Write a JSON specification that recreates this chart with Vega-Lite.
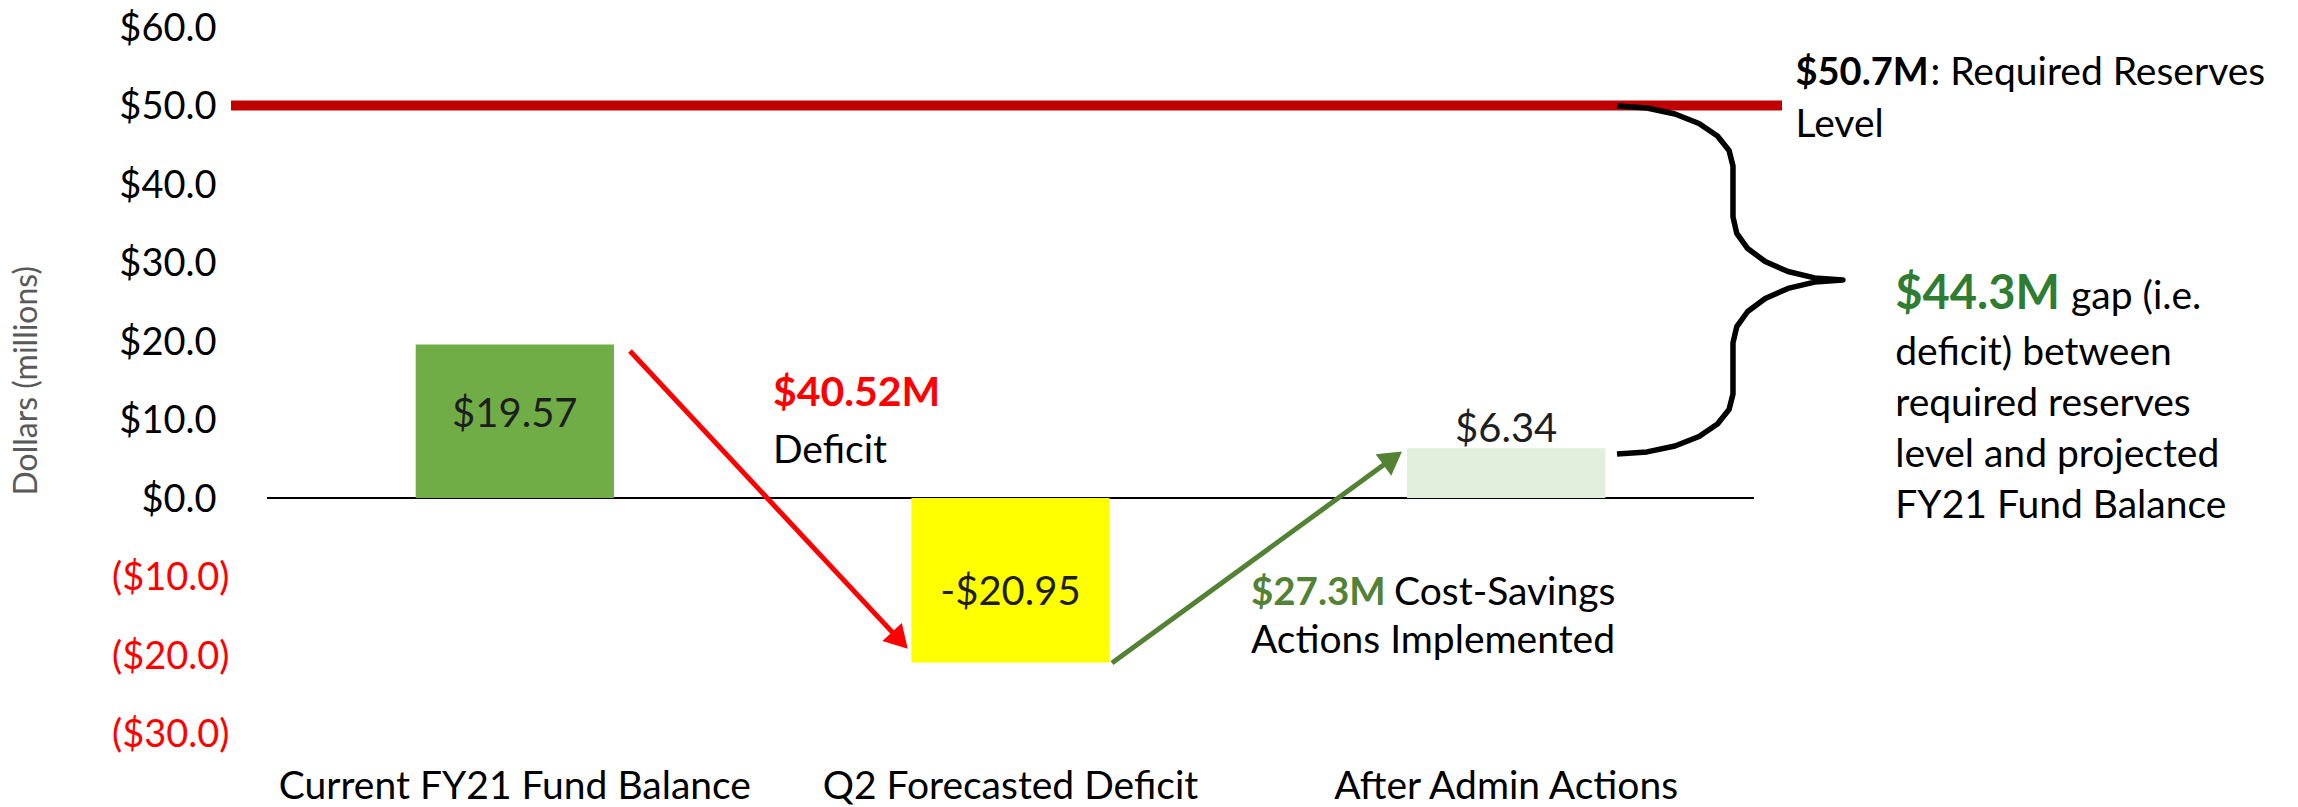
{
  "$schema": "https://vega.github.io/schema/vega-lite/v6.json",
  "width": 1487,
  "height": 706.5,
  "autosize": {"type": "none"},
  "padding": {"left": 267, "top": 27, "right": 544, "bottom": 73.5},
  "background": "white",
  "config": {"view": {"stroke": null}, "font": "Lato"},
  "datasets": {
    "bars": [
      {"category": "Current FY21 Fund Balance", "value": 19.57, "label": "$19.57", "label_y": 9.04},
      {"category": "Q2 Forecasted Deficit", "value": -20.95, "label": "-$20.95", "label_y": -13.63},
      {"category": "After Admin Actions", "value": 6.34, "label": "$6.34", "label_y": 7.13}
    ],
    "reserve": [{"x_start": -0.0726, "x_end": 3.0565, "level": 50}],
    "arrows": [
      {"arrow": "deficit", "x0": 0.7323, "y0": 18.73, "x1": 1.2769, "y1": -18.14},
      {"arrow": "savings", "x0": 1.7047, "y0": -21.02, "x1": 2.2711, "y1": 5.06}
    ],
    "brace": [
      {"seq": 1, "bx": 2.7236, "by": 49.94},
      {"seq": 2, "bx": 2.7841, "by": 49.68},
      {"seq": 3, "bx": 2.8406, "by": 48.91},
      {"seq": 4, "bx": 2.8891, "by": 47.70},
      {"seq": 5, "bx": 2.9263, "by": 46.11},
      {"seq": 6, "bx": 2.9497, "by": 44.27},
      {"seq": 7, "bx": 2.9576, "by": 42.29},
      {"seq": 8, "bx": 2.9576, "by": 35.80},
      {"seq": 9, "bx": 2.9652, "by": 33.72},
      {"seq": 10, "bx": 2.9873, "by": 31.78},
      {"seq": 11, "bx": 3.0226, "by": 30.12},
      {"seq": 12, "bx": 3.0686, "by": 28.85},
      {"seq": 13, "bx": 3.1221, "by": 28.04},
      {"seq": 14, "bx": 3.1795, "by": 27.77},
      {"seq": 15, "bx": 3.1221, "by": 27.50},
      {"seq": 16, "bx": 3.0686, "by": 26.70},
      {"seq": 17, "bx": 3.0226, "by": 25.42},
      {"seq": 18, "bx": 2.9873, "by": 23.76},
      {"seq": 19, "bx": 2.9652, "by": 21.82},
      {"seq": 20, "bx": 2.9576, "by": 19.75},
      {"seq": 21, "bx": 2.9576, "by": 13.25},
      {"seq": 22, "bx": 2.9497, "by": 11.27},
      {"seq": 23, "bx": 2.9263, "by": 9.43},
      {"seq": 24, "bx": 2.8891, "by": 7.84},
      {"seq": 25, "bx": 2.8406, "by": 6.63},
      {"seq": 26, "bx": 2.7841, "by": 5.87},
      {"seq": 27, "bx": 2.7236, "by": 5.61}
    ],
    "plain_text": [
      {"text": "Deficit", "tx": 1.0208, "ty": 4.46},
      {"text": "Cost-Savings", "tx": 2.2737, "ty": -13.63},
      {"text": "Actions Implemented", "tx": 1.985, "ty": -19.75},
      {"text": ": Required Reserves", "tx": 3.356, "ty": 52.61},
      {"text": "Level", "tx": 3.0838, "ty": 46.04},
      {"text": "gap (i.e.", "tx": 3.6396, "ty": 24.08},
      {"text": "deficit) between", "tx": 3.285, "ty": 16.88},
      {"text": "required reserves", "tx": 3.285, "ty": 10.45},
      {"text": "level and projected", "tx": 3.285, "ty": 3.95},
      {"text": "FY21 Fund Balance", "tx": 3.285, "ty": -2.55}
    ],
    "deficit_text": [{"text": "$40.52M", "tx": 1.0208, "ty": 11.72}],
    "savings_text": [{"text": "$27.3M", "tx": 1.985, "ty": -13.63}],
    "reserve_text": [{"text": "$50.7M", "tx": 3.0838, "ty": 52.61}],
    "gap_text": [{"text": "$44.3M", "tx": 3.285, "ty": 24.08}]
  },
  "layer": [
    {
      "data": {"name": "bars"},
      "mark": {"type": "rule", "color": "black", "strokeWidth": 2},
      "encoding": {
        "y": {
          "datum": 0, "type": "quantitative",
          "scale": {"domain": [-30, 60], "nice": false},
          "axis": {
            "title": "Dollars (millions)",
            "values": [-30, -20, -10, 0, 10, 20, 30, 40, 50, 60],
            "labelExpr": "datum.value < 0 ? '($' + format(-datum.value, '.1f') + ')' : '$' + format(datum.value, '.1f')",
            "labelColor": {"condition": {"test": "datum.value < 0", "value": "#FF0000"}, "value": "black"},
            "labelPadding": {"condition": {"test": "datum.value < 0", "value": 38}, "value": 51},
            "labelOffset": 2,
            "ticks": false, "domain": false, "grid": false,
            "labelFont": "Lato", "labelFontSize": 38, "labelBaseline": "middle",
            "titleFont": "Lato", "titleFontSize": 32, "titleFontWeight": "normal",
            "titleColor": "#595959", "titlePadding": 68
          }
        }
      }
    },
    {
      "data": {"name": "bars"},
      "mark": {"type": "bar"},
      "encoding": {
        "x": {
          "field": "category", "type": "nominal", "sort": null,
          "scale": {"paddingInner": 0.6, "paddingOuter": 0.3},
          "axis": {
            "title": null, "ticks": false, "tickSize": 0, "domain": false,
            "labelFont": "Lato", "labelFontSize": 39, "labelColor": "black",
            "labelPadding": 65, "labelBaseline": "alphabetic", "labelAngle": 0, "labelLimit": 0
          }
        },
        "y": {"field": "value", "type": "quantitative", "scale": {"domain": [-30, 60], "nice": false}},
        "y2": {"datum": 0},
        "color": {
          "field": "category", "type": "nominal", "sort": null,
          "scale": {
            "domain": ["Current FY21 Fund Balance", "Q2 Forecasted Deficit", "After Admin Actions"],
            "range": ["#70AD47", "#FFFF00", "#E2EFDA"]
          },
          "legend": null
        }
      }
    },
    {
      "data": {"name": "bars"},
      "mark": {"type": "text", "align": "center", "baseline": "alphabetic", "font": "Lato", "fontSize": 40, "color": "#1e1e1e"},
      "encoding": {
        "x": {
          "field": "category", "type": "nominal", "sort": null,
          "scale": {"paddingInner": 0.6, "paddingOuter": 0.3},
          "axis": null
        },
        "y": {"field": "label_y", "type": "quantitative", "scale": {"domain": [-30, 60], "nice": false}},
        "text": {"field": "label"}
      }
    },
    {
      "data": {"name": "reserve"},
      "mark": {"type": "rule", "color": "#C00000", "strokeWidth": 10},
      "encoding": {
        "x": {"field": "x_start", "type": "quantitative", "scale": {"domain": [0, 3], "nice": false, "zero": false}, "axis": null},
        "x2": {"field": "x_end"},
        "y": {"field": "level", "type": "quantitative", "scale": {"domain": [-30, 60], "nice": false}}
      }
    },
    {
      "data": {"name": "arrows"},
      "transform": [{"filter": "datum.arrow == 'deficit'"}],
      "mark": {"type": "rule", "strokeWidth": 5, "color": "#FF0000"},
      "encoding": {
        "x": {"field": "x0", "type": "quantitative", "scale": {"domain": [0, 3], "nice": false, "zero": false}, "axis": null},
        "x2": {"field": "x1"},
        "y": {"field": "y0", "type": "quantitative"},
        "y2": {"field": "y1"}
      }
    },
    {
      "data": {"name": "arrows"},
      "transform": [{"filter": "datum.arrow == 'savings'"}],
      "mark": {"type": "rule", "strokeWidth": 5, "color": "#548235"},
      "encoding": {
        "x": {"field": "x0", "type": "quantitative", "scale": {"domain": [0, 3], "nice": false, "zero": false}, "axis": null},
        "x2": {"field": "x1"},
        "y": {"field": "y0", "type": "quantitative"},
        "y2": {"field": "y1"}
      }
    },
    {
      "data": {"name": "arrows"},
      "transform": [{"filter": "datum.arrow == 'deficit'"}],
      "mark": {"type": "point", "shape": "triangle-up", "filled": true, "size": 700, "angle": 137, "color": "#FF0000", "opacity": 1},
      "encoding": {
        "x": {"field": "x1", "type": "quantitative", "scale": {"domain": [0, 3], "nice": false, "zero": false}, "axis": null},
        "y": {"field": "y1", "type": "quantitative"}
      }
    },
    {
      "data": {"name": "arrows"},
      "transform": [{"filter": "datum.arrow == 'savings'"}],
      "mark": {"type": "point", "shape": "triangle-up", "filled": true, "size": 700, "angle": 54, "color": "#548235", "opacity": 1},
      "encoding": {
        "x": {"field": "x1", "type": "quantitative", "scale": {"domain": [0, 3], "nice": false, "zero": false}, "axis": null},
        "y": {"field": "y1", "type": "quantitative"}
      }
    },
    {
      "data": {"name": "brace"},
      "mark": {"type": "line", "color": "black", "strokeWidth": 5.5, "strokeJoin": "round", "strokeCap": "butt", "clip": false},
      "encoding": {
        "x": {"field": "bx", "type": "quantitative", "scale": {"domain": [0, 3], "nice": false, "zero": false}, "axis": null},
        "y": {"field": "by", "type": "quantitative"},
        "order": {"field": "seq", "type": "quantitative"}
      }
    },
    {
      "data": {"name": "plain_text"},
      "mark": {"type": "text", "align": "left", "baseline": "alphabetic", "font": "Lato", "fontSize": 39, "color": "black"},
      "encoding": {
        "x": {"field": "tx", "type": "quantitative", "scale": {"domain": [0, 3], "nice": false, "zero": false}, "axis": null},
        "y": {"field": "ty", "type": "quantitative"},
        "text": {"field": "text"}
      }
    },
    {
      "data": {"name": "deficit_text"},
      "mark": {"type": "text", "align": "left", "baseline": "alphabetic", "font": "Lato", "fontSize": 41, "fontWeight": "bold", "color": "#FF0000"},
      "encoding": {
        "x": {"field": "tx", "type": "quantitative", "scale": {"domain": [0, 3], "nice": false, "zero": false}, "axis": null},
        "y": {"field": "ty", "type": "quantitative"},
        "text": {"field": "text"}
      }
    },
    {
      "data": {"name": "savings_text"},
      "mark": {"type": "text", "align": "left", "baseline": "alphabetic", "font": "Lato", "fontSize": 38.5, "fontWeight": "bold", "color": "#548235"},
      "encoding": {
        "x": {"field": "tx", "type": "quantitative", "scale": {"domain": [0, 3], "nice": false, "zero": false}, "axis": null},
        "y": {"field": "ty", "type": "quantitative"},
        "text": {"field": "text"}
      }
    },
    {
      "data": {"name": "reserve_text"},
      "mark": {"type": "text", "align": "left", "baseline": "alphabetic", "font": "Lato", "fontSize": 38, "fontWeight": "bold", "color": "black"},
      "encoding": {
        "x": {"field": "tx", "type": "quantitative", "scale": {"domain": [0, 3], "nice": false, "zero": false}, "axis": null},
        "y": {"field": "ty", "type": "quantitative"},
        "text": {"field": "text"}
      }
    },
    {
      "data": {"name": "gap_text"},
      "mark": {"type": "text", "align": "left", "baseline": "alphabetic", "font": "Lato", "fontSize": 47, "fontWeight": "bold", "color": "#2E7D32"},
      "encoding": {
        "x": {"field": "tx", "type": "quantitative", "scale": {"domain": [0, 3], "nice": false, "zero": false}, "axis": null},
        "y": {"field": "ty", "type": "quantitative"},
        "text": {"field": "text"}
      }
    }
  ],
  "resolve": {"scale": {"x": "independent"}, "axis": {"x": "independent"}}
}
